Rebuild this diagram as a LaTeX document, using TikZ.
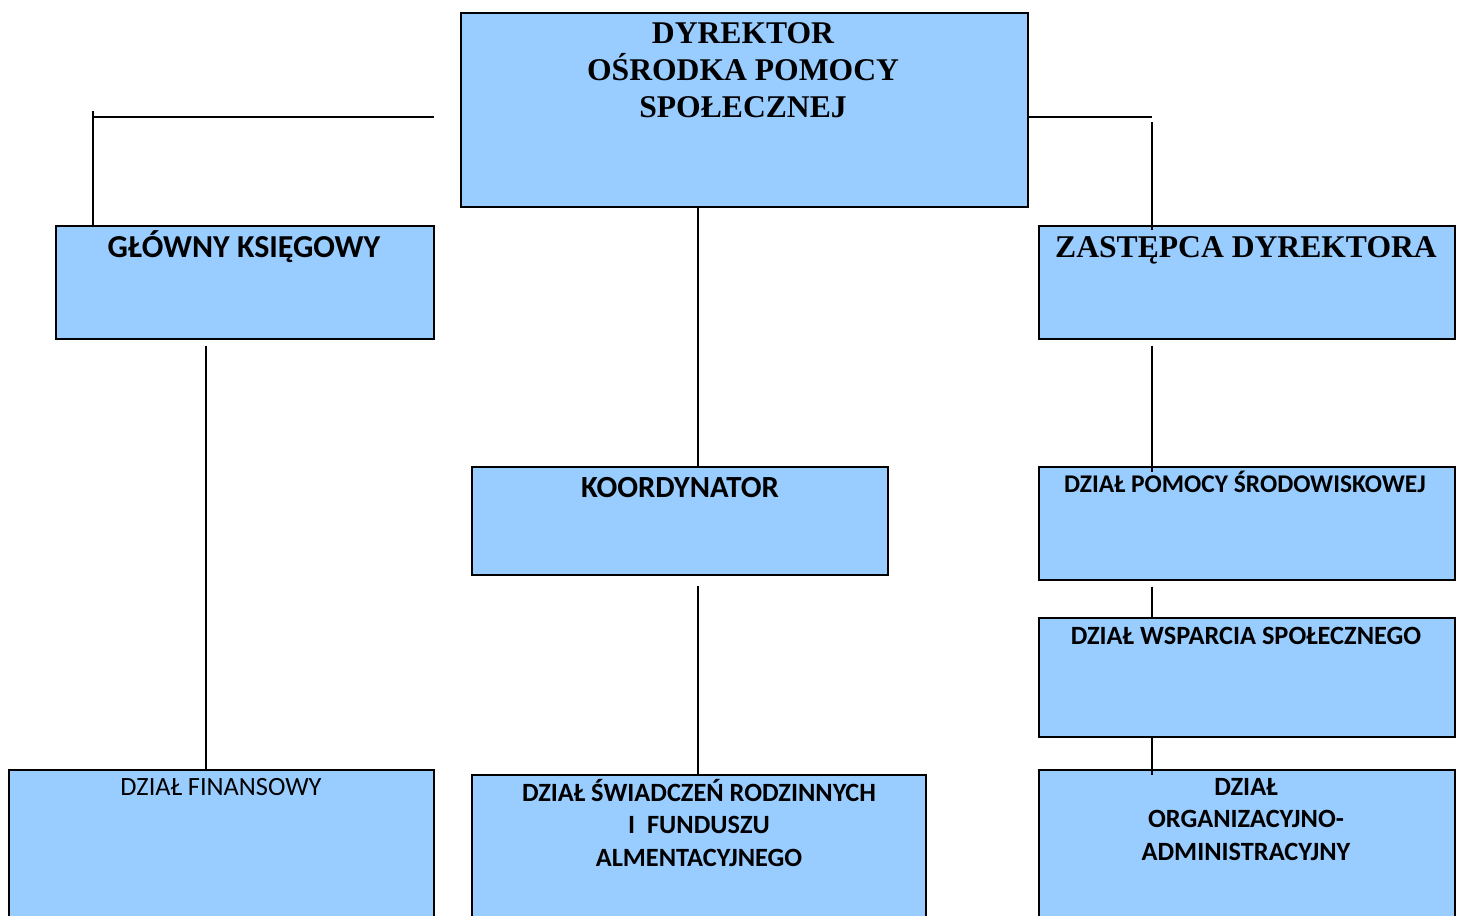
\documentclass[tikz,border=0pt]{standalone}
\usepackage{fontspec}
\setmainfont{Carlito}
\newfontfamily\timesfont{Liberation Serif}
\usepackage{tikz}
\usetikzlibrary{positioning, calc}
\usepackage{xcolor}

\begin{document}
\begin{tikzpicture}[x=0.02cm, y=-0.02cm, line width=1pt]
    \definecolor{boxblue}{RGB}{153,204,255}
    \tikzset{
        box/.style={draw=black, fill=boxblue, rectangle, inner sep=0pt, anchor=north west},
        ttl/.style={anchor=base, align=center, inner sep=0pt, font=\bfseries\fontsize{15}{18.4}\selectfont},
    }
    \useasboundingbox (0,0) rectangle (1465,916);
    % boxes (top left corner in px)
    \node[box, minimum width=11.34cm, minimum height=3.88cm] (dir) at (460,12) {};
    \node[box, minimum width=7.56cm, minimum height=2.26cm] (gk) at (55,225) {};
    \node[box, minimum width=8.32cm, minimum height=2.26cm] (zd) at (1038,225) {};
    \node[box, minimum width=8.32cm, minimum height=2.16cm] (koord) at (471,466) {};
    \node[box, minimum width=8.32cm, minimum height=2.26cm] (dpsr) at (1038,466) {};
    \node[box, minimum width=8.32cm, minimum height=2.38cm] (dws) at (1038,617) {};
    \node[box, minimum width=8.50cm, minimum height=3.82cm] (df) at (8,769) {};
    \node[box, minimum width=9.08cm, minimum height=3.72cm] (dsr) at (471,774) {};
    \node[box, minimum width=8.32cm, minimum height=3.82cm] (doa) at (1038,769) {};
    % titles (baseline of the last line)
    \node[ttl, font=\timesfont\bfseries\fontsize{18}{21}\selectfont] (dirtxt) at (743,117)
        {DYREKTOR\\OŚRODKA POMOCY\\SPOŁECZNEJ};
    \node[ttl, font=\bfseries\fontsize{18.2}{22}\selectfont] (gktxt) at (244,257) {GŁÓWNY KSIĘGOWY};
    \node[ttl, font=\timesfont\bfseries\fontsize{18}{22}\selectfont] (zdtxt) at (1246,257) {ZASTĘPCA DYREKTORA};
    \node[ttl, font=\bfseries\fontsize{17.5}{22}\selectfont] (koordtxt) at (680,497) {KOORDYNATOR};
    \node[ttl, font=\bfseries\fontsize{14.5}{18}\selectfont] (dpsrtxt) at (1245,492) {DZIAŁ POMOCY ŚRODOWISKOWEJ};
    \node[ttl] (dwstxt) at (1246,644) {DZIAŁ WSPARCIA SPOŁECZNEGO};
    \node[ttl, font=\fontsize{15}{18.4}\selectfont] (dftxt) at (221,795) {DZIAŁ FINANSOWY};
    \node[ttl] (dsrtxt) at (699,866) {DZIAŁ ŚWIADCZEŃ RODZINNYCH\\I\ \ FUNDUSZU\\ALMENTACYJNEGO};
    \node[ttl] (doatxt) at (1246,860) {DZIAŁ\\ORGANIZACYJNO-\\ADMINISTRACYJNY};
    % connectors
    \coordinate (ltip) at (93,111);
    \coordinate (lbar) at (93,117);
    \coordinate (lend) at (434,117);
    \coordinate (spine) at (698,0);
    \coordinate (fin) at (206,0);
    \coordinate (rbar) at (1152,117);
    \coordinate (rtip) at (1152,122);
    \draw (ltip) -- (ltip |- gk.north);
    \draw (lbar) -- (lend);
    \draw (rbar -| dir.east) -- (rbar);
    \draw[shorten >=-3pt] (rtip) -- (zd.north -| rtip);
    \draw (dir.south -| spine) -- (koord.north -| spine);
    \draw[shorten <=6pt] (koord.south -| spine) -- (dsr.north -| spine);
    \draw[shorten <=3.4pt] (gk.south -| fin) -- (df.north -| fin);
    \draw[shorten <=3.4pt, shorten >=-3.4pt] (zd.south -| rtip) -- (dpsr.north -| rtip);
    \draw[shorten <=3.4pt] (dpsr.south -| rtip) -- (dws.north -| rtip);
    \draw[shorten >=-3.4pt] (dws.south -| rtip) -- (doa.north -| rtip);
\end{tikzpicture}
\end{document}
